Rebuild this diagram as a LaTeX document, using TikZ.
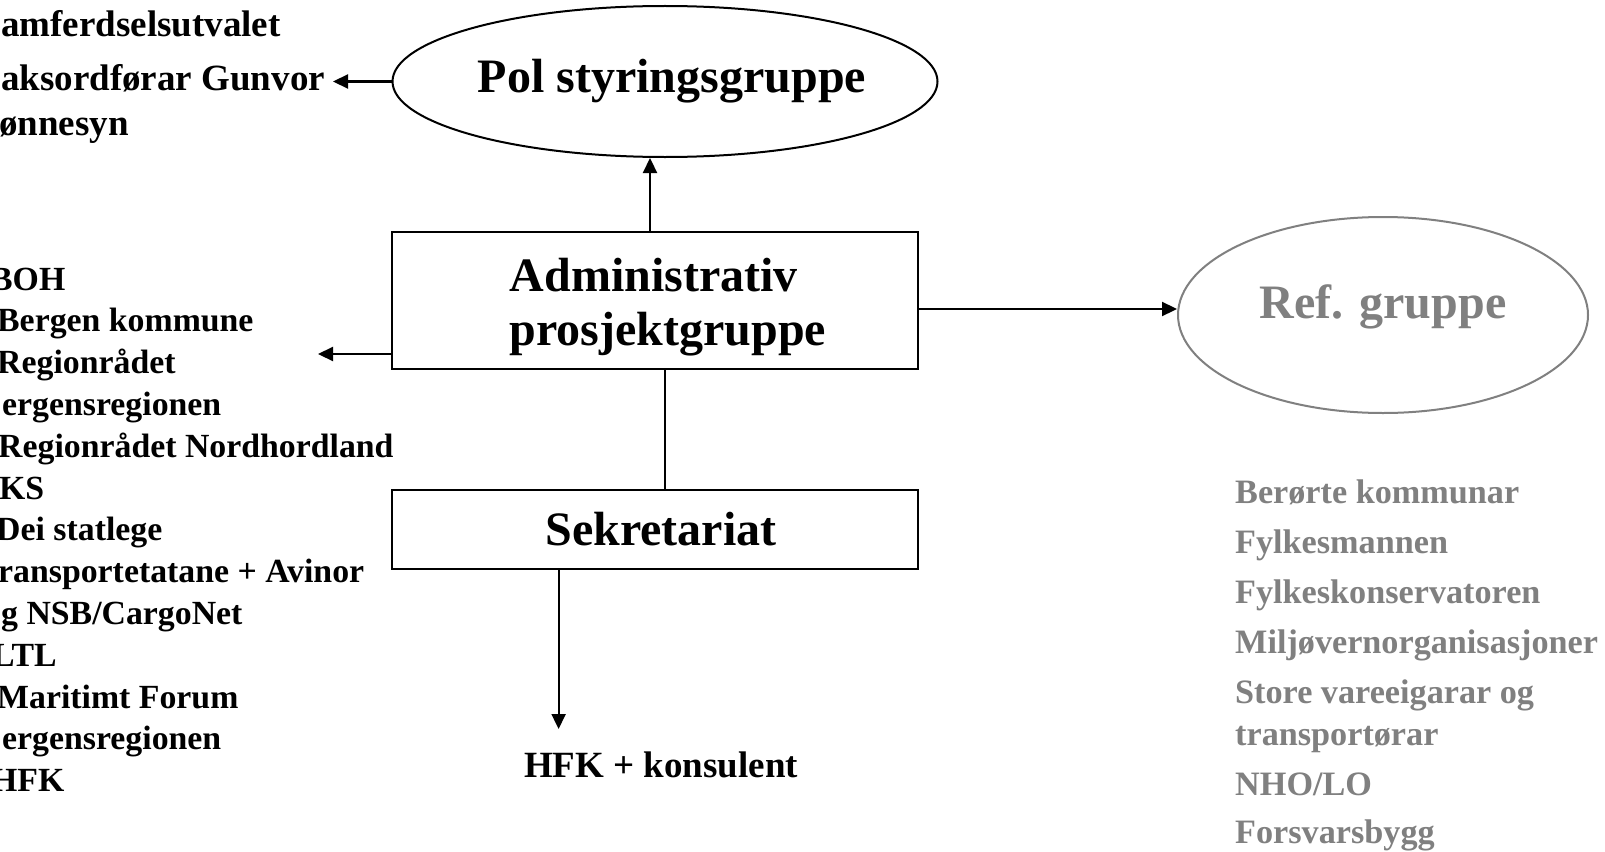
\documentclass[tikz,border=0pt]{standalone}
\usepackage{fontspec}
\setmainfont{Liberation Serif}
\usetikzlibrary{arrows.meta,shapes.geometric,calc}
\definecolor{refgray}{RGB}{128,128,128}
\begin{document}
\begin{tikzpicture}[x=1pt,y=-1pt,
  conn/.style={line width=2.2pt,-{Triangle[length=15pt,width=14pt]}},
  plainline/.style={line width=2.2pt},
  boxnode/.style={draw,line width=2.2pt,minimum width=526pt,inner sep=0pt,
    font=\bfseries\fontsize{48}{54}\selectfont},
  ellnode/.style={ellipse,draw,line width=2pt,inner sep=0pt,
    font=\bfseries\fontsize{48}{54}\selectfont},
  leftitem/.style={anchor=base west,inner sep=0pt,font=\bfseries\fontsize{33.8}{40}\selectfont},
  topitem/.style={anchor=base west,inner sep=0pt,font=\bfseries\fontsize{37}{44}\selectfont},
  rightitem/.style={anchor=base west,inner sep=0pt,text=refgray,font=\bfseries\fontsize{34.2}{41}\selectfont},
  hfkstyle/.style={anchor=base,inner sep=0pt,font=\bfseries\fontsize{37}{44}\selectfont}
]
\useasboundingbox (0,0) rectangle (1605,851);
\clip (0,0) rectangle (1605,851);
\fill[white] (0,0) rectangle (1605,851);

% main nodes
\node[ellnode,minimum width=545pt,minimum height=151pt] (pol) at (665,81.5)
  {\makebox[0pt]{\hspace*{14pt}Pol styringsgruppe}};
\node[boxnode,minimum height=137pt,align=left] (adm) at (655,300.5)
  {\rule{0pt}{47pt}\hspace*{26pt}Administrativ\\\hspace*{26pt}prosjektgruppe};
\node[boxnode,minimum height=79pt] (sek) at (655,529.5)
  {\hspace*{12pt}Sekretariat};
\node[ellnode,draw=refgray,text=refgray,minimum width=410pt,minimum height=196pt,
  text height=33pt,text depth=27pt] (ref) at (1383,315) {Ref. gruppe};
\node[hfkstyle] (hfk) at (661,777) {HFK + konsulent};

% top-left list
\node[topitem] (t1) at (1,37) {amferdselsutvalet};
\node[topitem] (t2) at (1,90.7) {aksordførar Gunvor};
\node[topitem] (t3) at (-1,135) {ønnesyn};

% left list
\node[leftitem] (l1) at (-10,290) {BOH};
\node[leftitem] (l2) at (-3,331.8) {Bergen kommune};
\node[leftitem] (l3) at (-3,373.6) {Regionrådet};
\node[leftitem] (l4) at (2,415.4) {ergensregionen};
\node[leftitem] (l5) at (-2,457.2) {Regionrådet Nordhordland};
\node[leftitem] (l6) at (-1,499) {KS};
\node[leftitem] (l7) at (-4,540.8) {Dei statlege};
\node[leftitem] (l8) at (-2,582.6) {ransportetatane + Avinor};
\node[leftitem] (l9) at (1,624.4) {g NSB/CargoNet};
\node[leftitem] (l10) at (-8,666.2) {LTL};
\node[leftitem] (l11) at (-3,708) {Maritimt Forum};
\node[leftitem] (l12) at (2,749.8) {ergensregionen};
\node[leftitem] (l13) at (-9,791.6) {HFK};

% right list
\node[rightitem] (r1) at (1235,503) {Berørte kommunar};
\node[rightitem] (r2) at (1235,553) {Fylkesmannen};
\node[rightitem] (r3) at (1235,603) {Fylkeskonservatoren};
\node[rightitem] (r4) at (1235,653) {Miljøvernorganisasjoner};
\node[rightitem] (r5) at (1235,703) {Store vareeigarar og};
\node[rightitem] (r6) at (1235,745) {transportørar};
\node[rightitem] (r7) at (1235,795) {NHO/LO};
\node[rightitem] (r8) at (1235,843) {Forsvarsbygg};

% connectors
\coordinate (poltip) at (333,81.5);
\draw[conn] (pol.west) -- (poltip);

\coordinate (a1) at ($(adm.north)+(-5,0)$);
\draw[conn] (a1) -- (a1 |- pol.south);

\coordinate (a2) at ($(adm.east)+(0,8.5)$);
\draw[conn] (a2) -- (a2 -| ref.west);

\coordinate (a3) at ($(adm.west)+(0,53.5)$);
\coordinate (listtip) at (318,354);
\draw[conn] (a3) -- (listtip);

\coordinate (a4) at ($(adm.south)+(10,0)$);
\draw[plainline] (a4) -- (a4 |- sek.north);

\coordinate (a5) at ($(sek.south west)!0.3175!(sek.south east)$);
\coordinate (hfktip) at (559,729);
\draw[conn] (a5) -- (a5 |- hfktip);
\end{tikzpicture}
\end{document}
